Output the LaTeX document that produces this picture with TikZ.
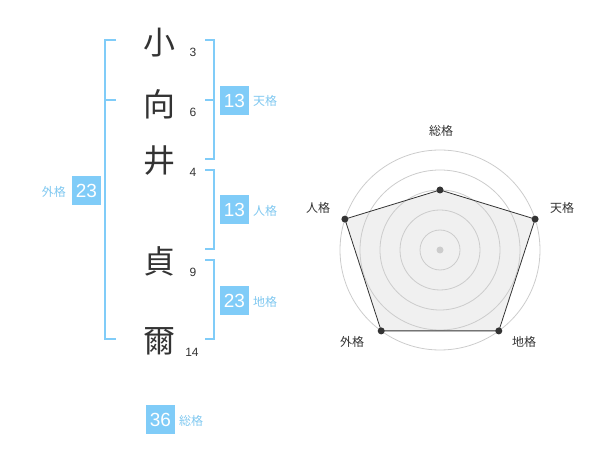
\documentclass[tikz,border=0pt]{standalone}
\usepackage{fontspec}
\setmainfont{Liberation Sans}
\newfontfamily\cjk{Noto Sans CJK JP}
\definecolor{sky}{RGB}{128,204,248}
\definecolor{skytext}{RGB}{128,200,240}
\definecolor{ink}{RGB}{51,51,51}
\definecolor{ring}{RGB}{204,204,204}
\definecolor{area}{RGB}{240,240,240}
\begin{document}
\begin{tikzpicture}[x=1pt,y=-1pt,
  kanji/.style={inner sep=0pt,text=ink,font=\fontsize{32}{32}\selectfont\cjk},
  strokes/.style={inner sep=0pt,text=ink,font=\fontsize{12}{12}\selectfont},
  valbox/.style={fill=sky,text=white,minimum width=29pt,minimum height=29pt,inner sep=0pt,font=\fontsize{19}{19}\selectfont},
  kaku/.style={inner sep=0pt,text=skytext,font=\fontsize{12}{12}\selectfont\cjk},
  bracket/.style={draw=sky,line width=2pt},
  radlabel/.style={inner sep=0pt,text=ink,font=\fontsize{12}{12}\selectfont\cjk},
  dot/.style={circle,fill=ink,minimum size=7pt,inner sep=0pt},
  ringline/.style={draw=ring,line width=0.8pt}]
\useasboundingbox (0,0) rectangle (600,470);
% characters
\node[kanji] (c1) at (159,43) {小};
\node[kanji] (c2) at (159,104) {向};
\node[kanji] (c3) at (159,161) {井};
\node[kanji] (c4) at (159,261) {貞};
\node[kanji] (c5) at (159,341) {爾};
% stroke counts
\node[strokes] (s1) at (193,52) {3};
\node[strokes] (s2) at (193,112) {6};
\node[strokes] (s3) at (193,172) {4};
\node[strokes] (s4) at (193,272) {9};
\node[strokes] (s5) at (192,352) {14};
% brackets
\draw[bracket] (116,40) -- (105,40) -- (105,339) -- (116,339);
\draw[bracket] (105,100) -- (116,100);
\draw[bracket] (205,40) -- (214,40) -- (214,159) -- (205,159);
\draw[bracket] (205,100) -- (214,100);
\draw[bracket] (205,170) -- (214,170) -- (214,249) -- (205,249);
\draw[bracket] (205,260) -- (214,260) -- (214,339) -- (205,339);
% value boxes
\node[valbox] (ten) at (234.5,100.5) {13};
\node[kaku,anchor=west] (tenl) at (253,101) {天格};
\node[valbox] (jin) at (234.5,210) {13};
\node[kaku,anchor=west] (jinl) at (253,211) {人格};
\node[valbox] (chi) at (234.5,300.5) {23};
\node[kaku,anchor=west] (chil) at (253,302) {地格};
\node[valbox] (gai) at (86.5,190.5) {23};
\node[kaku,anchor=east] (gail) at (66,192) {外格};
\node[valbox] (sou) at (160.5,419.5) {36};
\node[kaku,anchor=west] (soul) at (179,421) {総格};
% radar chart
\coordinate (ctr) at (440,250);
\coordinate (pS) at (440,190);
\coordinate (pT) at (535.1,219.1);
\coordinate (pC) at (498.8,330.9);
\coordinate (pG) at (381.2,330.9);
\coordinate (pJ) at (344.9,219.1);
\fill[area] (pS) -- (pT) -- (pC) -- (pG) -- (pJ) -- cycle;
\foreach \r in {20,40,60,80,100} \draw[ringline] (ctr) circle[radius=\r];
\node[circle,fill=ring,minimum size=7pt,inner sep=0pt] (cdot) at (ctr) {};
\draw[ink,line width=0.8pt] (pS) -- (pT) -- (pC) -- (pG) -- (pJ) -- cycle;
\node[dot] (dS) at (pS) {};
\node[dot] (dT) at (pT) {};
\node[dot] (dC) at (pC) {};
\node[dot] (dG) at (pG) {};
\node[dot] (dJ) at (pJ) {};
\node[radlabel] (lS) at (441,131) {総格};
\node[radlabel] (lT) at (562,208) {天格};
\node[radlabel] (lJ) at (318,208) {人格};
\node[radlabel] (lG) at (352,342) {外格};
\node[radlabel] (lC) at (524,342) {地格};
\end{tikzpicture}
\end{document}
